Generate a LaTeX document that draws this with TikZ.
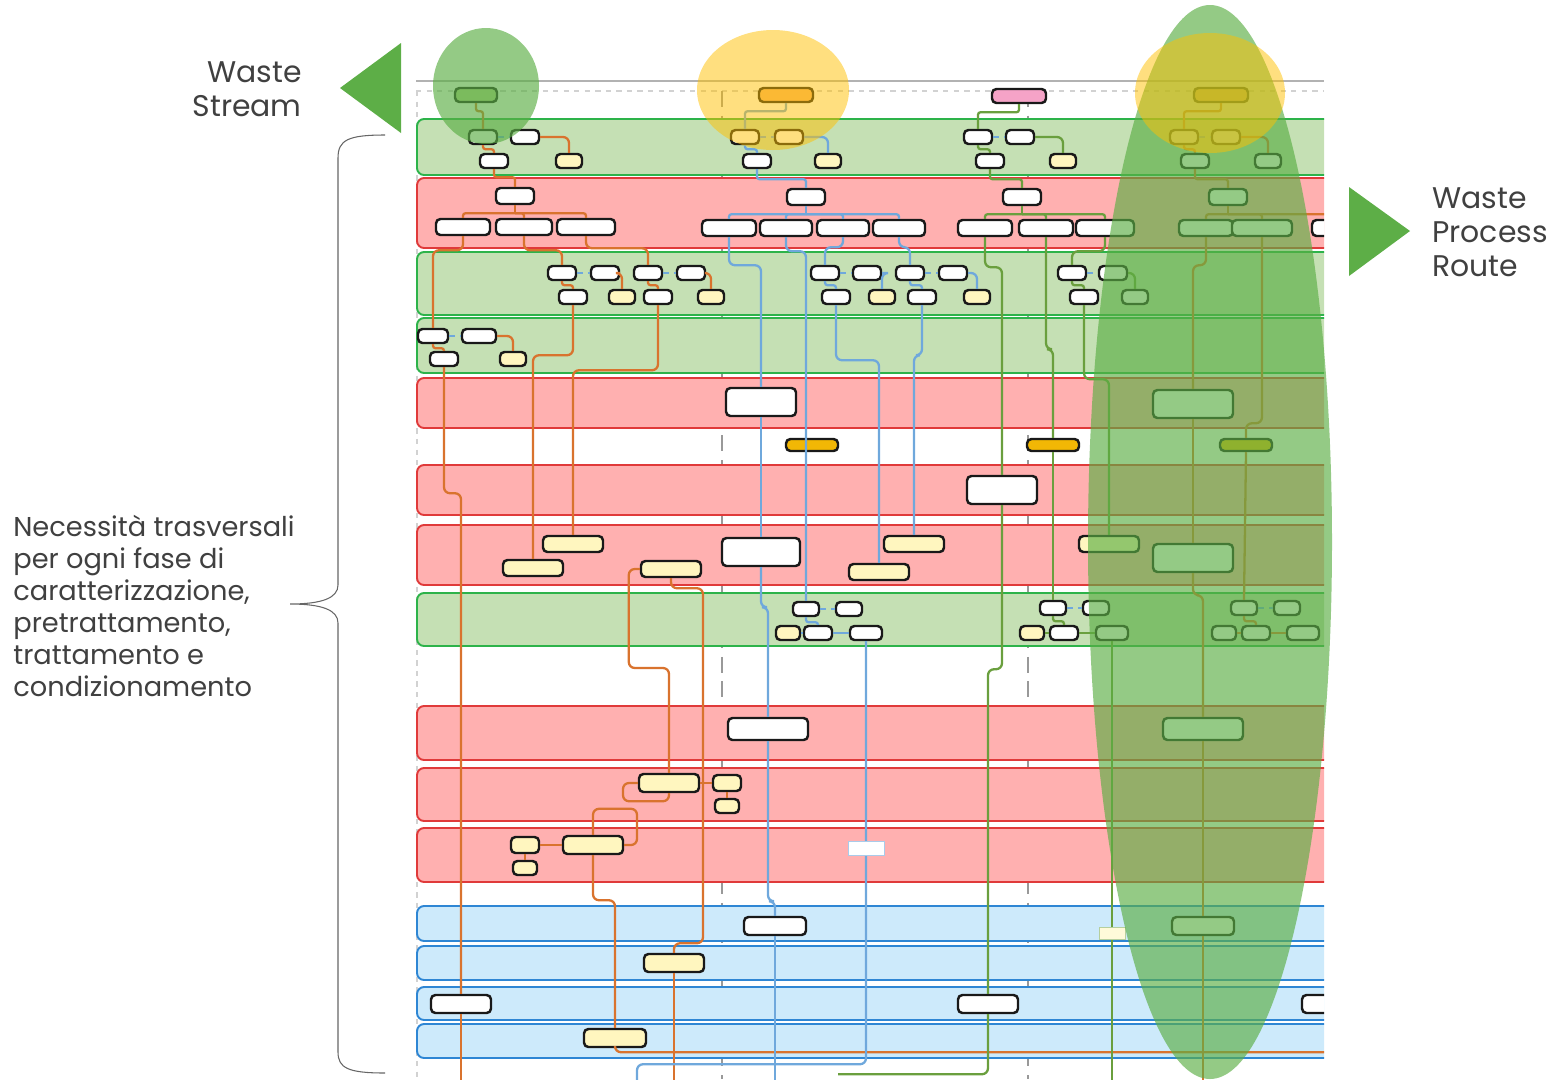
\documentclass[tikz,border=0pt]{standalone}
\usepackage{fontspec}
\setmainfont{Poppins}
\usepackage{xcolor}
\definecolor{txtgray}{HTML}{404040}
\definecolor{arrowgreen}{HTML}{5DAE47}
\definecolor{hlgreen}{HTML}{5BAE44}
\definecolor{hlyellow}{HTML}{FFC000}
\definecolor{bgfill}{HTML}{C5E0B4}
\definecolor{bgdraw}{HTML}{2DB34A}
\definecolor{brfill}{HTML}{FFB0B0}
\definecolor{brdraw}{HTML}{E03A3A}
\definecolor{bbfill}{HTML}{CDEAFB}
\definecolor{bbdraw}{HTML}{2E86D4}
\definecolor{orangeline}{HTML}{D9732E}
\definecolor{blueline}{HTML}{6FA8DC}
\definecolor{greenline}{HTML}{6A9F3E}
\definecolor{yellowfill}{HTML}{FFF6BF}
\definecolor{goldfill}{HTML}{F2B705}
\definecolor{hdgreen}{HTML}{B8D48E}
\definecolor{hdorange}{HTML}{F7B36A}
\definecolor{hdpink}{HTML}{F5A3C7}
\tikzset{
  nd/.style={draw=black!90, line width=1.4pt, rounded corners=2.5pt, fill=white, inner sep=0pt},
  ye/.style={nd, fill=yellowfill},
  sz/.style 2 args={minimum width=#1*0.2mm, minimum height=#2*0.2mm},
  bandg/.style={fill=bgfill, draw=bgdraw, line width=1.1pt, rounded corners=4pt},
  bandr/.style={fill=brfill, draw=brdraw, line width=1.1pt, rounded corners=4pt},
  bandb/.style={fill=bbfill, draw=bbdraw, line width=1.1pt, rounded corners=4pt},
  oline/.style={draw=orangeline, line width=1.3pt, rounded corners=1.2mm},
  bline/.style={draw=blueline, line width=1.3pt, rounded corners=1.2mm},
  gline/.style={draw=greenline, line width=1.3pt, rounded corners=1.2mm},
  sr/.style={rounded corners=0.5mm},
  bdash/.style={draw=blueline, line width=1pt, dashed},
  sidetext/.style={text=txtgray, inner sep=0pt}
}
\begin{document}
\begin{tikzpicture}[x=0.2mm, y=-0.2mm]
\useasboundingbox (0,0) rectangle (1549,1079);

\begin{scope}
\clip (410,0) rectangle (1324,1079);
% frame lines
\draw[gray!60, line width=1pt] (416,81) -- (1324,81);
\draw[gray!35, line width=0.8pt, dashed] (416,91) -- (1324,91);
\draw[gray!35, line width=0.8pt, dashed] (417,91) -- (417,1079);
\draw[gray!80, line width=0.8pt, dash pattern=on 9pt off 5pt] (722,91) -- (722,1079);
\draw[gray!80, line width=0.8pt, dash pattern=on 9pt off 5pt] (1028,91) -- (1028,1079);

% lanes
\draw[bandg] (417,119) rectangle (1340,175);
\draw[bandr] (417,178) rectangle (1340,248);
\draw[bandg] (417,252) rectangle (1340,315);
\draw[bandg] (417,318) rectangle (1340,373);
\draw[bandr] (417,378) rectangle (1340,428);
\draw[bandr] (417,465) rectangle (1340,515);
\draw[bandr] (417,525) rectangle (1340,585);
\draw[bandg] (417,593) rectangle (1340,646);
\draw[bandr] (417,706) rectangle (1340,760);
\draw[bandr] (417,768) rectangle (1340,821);
\draw[bandr] (417,828) rectangle (1340,882);
\draw[bandb] (417,906) rectangle (1340,941);
\draw[bandb] (417,946) rectangle (1340,980);
\draw[bandb] (417,987) rectangle (1340,1020);
\draw[bandb] (417,1024) rectangle (1340,1058);

% headers
\node[nd, fill=hdgreen, sz={42}{14}] (h1) at (476,95) {};
\node[nd, fill=hdorange, sz={54}{14}] (h2) at (786,95) {};
\node[nd, fill=hdpink, sz={54}{14}] (h3) at (1019,96) {};
\node[nd, fill=hdorange, sz={54}{14}] (h4) at (1221,95) {};

% first lane
\node[nd, sz={28}{14}] (a1) at (483,137) {};
\node[nd, sz={28}{14}] (b1) at (525,137) {};
\node[nd, sz={28}{14}] (c1) at (494,161) {};
\node[ye, sz={26}{14}] (d1) at (569,161) {};
\node[nd, sz={28}{14}] (a2) at (745,137) {};
\node[nd, sz={28}{14}] (b2) at (789,137) {};
\node[nd, sz={28}{14}] (c2) at (757,161) {};
\node[ye, sz={26}{14}] (d2) at (828,161) {};
\node[nd, sz={28}{14}] (a3) at (978,137) {};
\node[nd, sz={28}{14}] (b3) at (1020,137) {};
\node[nd, sz={28}{14}] (c3) at (990,161) {};
\node[ye, sz={26}{14}] (d3) at (1063,161) {};
\node[nd, sz={28}{14}] (a4) at (1184,137) {};
\node[nd, sz={28}{14}] (b4) at (1226,137) {};
\node[nd, sz={28}{14}] (c4) at (1195,161) {};
\node[nd, sz={26}{14}] (d4) at (1268,161) {};

% second lane
\node[nd, sz={38}{16}] (p1) at (515,196) {};
\node[nd, sz={54}{16}] (q1) at (463,227) {};
\node[nd, sz={56}{16}] (r1) at (524,227) {};
\node[nd, sz={58}{16}] (s1) at (586,227) {};
\node[nd, sz={38}{16}] (p2) at (806,197) {};
\node[nd, sz={54}{16}] (q2) at (729,228) {};
\node[nd, sz={52}{16}] (r2) at (786,228) {};
\node[nd, sz={52}{16}] (s2) at (843,228) {};
\node[nd, sz={52}{16}] (t2) at (899,228) {};
\node[nd, sz={38}{16}] (p3) at (1022,197) {};
\node[nd, sz={54}{16}] (q3) at (985,228) {};
\node[nd, sz={54}{16}] (r3) at (1046,228) {};
\node[nd, sz={58}{16}] (s3) at (1105,228) {};
\node[nd, sz={38}{16}] (p4) at (1228,197) {};
\node[nd, sz={54}{16}] (q4) at (1206,228) {};
\node[nd, sz={60}{16}] (r4) at (1262,228) {};
\node[nd, sz={40}{16}] (s4) at (1332,228) {};

% third and fourth lane
\node[nd, sz={28}{14}] (e1) at (562,273) {};
\node[nd, sz={28}{14}] (f1) at (605,273) {};
\node[nd, sz={28}{14}] (g1) at (573,297) {};
\node[ye, sz={26}{14}] (k1) at (622,297) {};
\node[nd, sz={28}{14}] (e2) at (648,273) {};
\node[nd, sz={28}{14}] (f2) at (691,273) {};
\node[nd, sz={28}{14}] (g2) at (658,297) {};
\node[ye, sz={26}{14}] (k2) at (711,297) {};
\node[nd, sz={28}{14}] (e3) at (825,273) {};
\node[nd, sz={28}{14}] (f3) at (867,273) {};
\node[nd, sz={28}{14}] (g3) at (836,297) {};
\node[ye, sz={26}{14}] (k3) at (882,297) {};
\node[nd, sz={28}{14}] (e4) at (910,273) {};
\node[nd, sz={28}{14}] (f4) at (953,273) {};
\node[nd, sz={28}{14}] (g4) at (922,297) {};
\node[ye, sz={26}{14}] (k4) at (977,297) {};
\node[nd, sz={28}{14}] (e5) at (1072,273) {};
\node[nd, sz={28}{14}] (f5) at (1113,273) {};
\node[nd, sz={28}{14}] (g5) at (1084,297) {};
\node[nd, sz={26}{14}] (k5) at (1135,297) {};
\node[nd, sz={30}{14}] (e6) at (433,336) {};
\node[nd, sz={34}{14}] (f6) at (479,336) {};
\node[nd, sz={28}{14}] (g6) at (444,359) {};
\node[ye, sz={26}{14}] (k6) at (513,359) {};

% middle lanes
\node[nd, sz={70}{28}] (m1) at (761,402) {};
\node[nd, sz={80}{28}] (m2) at (1193,404) {};
\node[nd, fill=goldfill, sz={52}{12}] (o1) at (812,445) {};
\node[nd, fill=goldfill, sz={52}{12}] (o2) at (1053,445) {};
\node[nd, fill=goldfill, sz={52}{12}] (o3) at (1246,445) {};
\node[nd, sz={70}{28}] (m3) at (1002,490) {};
\node[ye, sz={60}{16}] (y1) at (573,544) {};
\node[ye, sz={60}{16}] (y2) at (533,568) {};
\node[ye, sz={60}{16}] (y3) at (671,569) {};
\node[nd, sz={78}{28}] (m4) at (761,552) {};
\node[ye, sz={60}{16}] (y4) at (914,544) {};
\node[ye, sz={60}{16}] (y5) at (879,572) {};
\node[ye, sz={60}{16}] (y6) at (1109,544) {};
\node[nd, sz={80}{28}] (m5) at (1193,558) {};

\node[nd, sz={26}{14}] (u1) at (806,609) {};
\node[nd, sz={26}{14}] (v1) at (849,609) {};
\node[ye, sz={24}{14}] (w1) at (788,633) {};
\node[nd, sz={28}{14}] (x1) at (818,633) {};
\node[nd, sz={32}{14}] (z1) at (866,633) {};
\node[nd, sz={26}{14}] (u2) at (1053,608) {};
\node[nd, sz={26}{14}] (v2) at (1096,608) {};
\node[ye, sz={24}{14}] (w2) at (1032,633) {};
\node[nd, sz={28}{14}] (x2) at (1064,633) {};
\node[nd, sz={32}{14}] (z2) at (1112,633) {};
\node[nd, sz={26}{14}] (u3) at (1244,608) {};
\node[nd, sz={26}{14}] (v3) at (1287,608) {};
\node[nd, sz={24}{14}] (w3) at (1224,633) {};
\node[nd, sz={28}{14}] (x3) at (1256,633) {};
\node[nd, sz={32}{14}] (z3) at (1303,633) {};

\node[nd, sz={80}{22}] (m6) at (768,729) {};
\node[nd, sz={80}{22}] (m7) at (1203,729) {};
\node[ye, sz={60}{18}] (y7) at (669,783) {};
\node[ye, sz={28}{16}] (y8) at (727,783) {};
\node[ye, sz={24}{14}] (y9) at (727,806) {};
\node[ye, sz={28}{16}] (y10) at (525,845) {};
\node[ye, sz={24}{14}] (y11) at (525,868) {};
\node[ye, sz={60}{18}] (y12) at (593,845) {};

% lower lanes
\node[nd, sz={62}{18}] (m8) at (775,926) {};
\node[nd, sz={62}{18}] (m9) at (1203,926) {};
\node[ye, sz={60}{18}] (y13) at (674,963) {};
\node[nd, sz={60}{18}] (m10) at (461,1004) {};
\node[nd, sz={60}{18}] (m11) at (988,1004) {};
\node[nd, sz={60}{18}] (m12) at (1332,1004) {};
\node[ye, sz={62}{18}] (y14) at (615,1038) {};

% orange route
\draw[oline, sr] (h1.south) -- ++(0,8) -| (a1.north);
\draw[bdash] (a1.east) -- (b1.west);
\draw[oline, sr] (a1.south) -- ++(0,4) -| (c1.north);
\draw[oline] (b1.east) -| (d1.north);
\draw[oline, sr] (c1.south) -- ++(0,8) -| (p1.north);
\draw[oline, sr] (p1.south) -- ++(0,8) coordinate (j1);
\draw[oline, sr] (j1) -| (q1.north);
\draw[oline, sr] (j1) -| (r1.north);
\draw[oline, sr] (j1) -| (s1.north);
\draw[oline] (q1.south) -- ++(0,14) -| (e6.north);
\draw[oline] (r1.south) -- ++(0,14) -| (e1.north);
\draw[oline] (s1.south) -- ++(0,12) -| (e2.north);
\draw[bdash] (e1.east) -- (f1.west);
\draw[oline, sr] (e1.south) -- ++(0,4) -| (g1.north);
\draw[oline] (f1.east) -| (k1.north);
\draw[bdash] (e2.east) -- (f2.west);
\draw[oline, sr] (e2.south) -- ++(0,4) -| (g2.north);
\draw[oline] (f2.east) -| (k2.north);
\draw[bdash] (e6.east) -- (f6.west);
\draw[oline, sr] (e6.south) -- ++(0,4) -| (g6.north);
\draw[oline] (f6.east) -| (k6.north);
\draw[oline] (g1.south) -- ++(0,50) -| (y2.north);
\draw[oline] (g2.south) -- ++(0,65) -| (y1.north);
\draw[oline] (g6.south) -- ++(0,126) -| (m10.north);
\draw[oline] (m10.south) -- ++(0,80);
\draw[oline] (y3.west) -| ++(-11,99) -| (y7.north);
\draw[oline] (y3.south) -- ++(0,10) -| ++(32,355) -| (y13.north);
\draw[oline] (y13.south) -- ++(0,120);
\draw[oline] (y7.south) |- ++(-46,8) |- (y7.west);
\draw[oline] (y7.east) -- (y8.west);
\draw[oline] (y8.south) -- (y9.north);
\draw[oline] (y12.north) |- ++(44,-26) |- (y12.east);
\draw[oline] (y12.west) -- (y10.east);
\draw[oline] (y10.south) -- (y11.north);
\draw[oline] (y12.south) -- ++(0,45) -| (y14.north);
\draw[oline] (y14.south) |- ++(720,4);

% blue route
\draw[bline, sr] (h2.south) -- ++(0,8) -| (a2.north);
\draw[bdash] (a2.east) -- (b2.west);
\draw[bline, sr] (a2.south) -- ++(0,4) -| (c2.north);
\draw[bline] (b2.east) -| (d2.north);
\draw[bline, sr] (c2.south) -- ++(0,10) -| (p2.north);
\draw[bline, sr] (p2.south) -- ++(0,8) coordinate (j2);
\draw[bline, sr] (j2) -| (q2.north);
\draw[bline, sr] (j2) -| (r2.north);
\draw[bline, sr] (j2) -| (s2.north);
\draw[bline, sr] (j2) -| (t2.north);
\draw[bline] (q2.south) -- ++(0,28) -| (m1.north);
\draw[bline] (m1.south) -- (m4.north);
\draw[bline] (m4.south) -- ++(0,40) -| (m6.north);
\draw[bline] (m6.south) -- ++(0,160) -| (m8.north);
\draw[bline] (m8.south) -- ++(0,200);
\draw[bline] (r2.south) -- ++(0,14) -| (u1.north);
\draw[bline] (s2.south) -- ++(0,10) -| (e3.north);
\draw[bline] (t2.south) -- ++(0,10) -| (e4.north);
\draw[bdash] (e3.east) -- (f3.west);
\draw[bline, sr] (e3.south) -- ++(0,4) -| (g3.north);
\draw[bline] (f3.east) -| (k3.north);
\draw[bdash] (e4.east) -- (f4.west);
\draw[bline, sr] (e4.south) -- ++(0,4) -| (g4.north);
\draw[bline] (f4.east) -| (k4.north);
\draw[bline] (g3.south) -- ++(0,55) -| (y5.north);
\draw[bline] (g4.south) -- ++(0,50) -| (y4.north);
\draw[bdash] (u1.east) -- (v1.west);
\draw[bline, sr] (u1.south) -- ++(0,5) -| (x1.north);
\draw[bline] (x1.west) -- (w1.east);
\draw[bline] (x1.east) -- (z1.west);
\draw[bline] (z1.south) |- ++(-229,423) -- ++(0,40);
\node[fill=white, draw=blueline!60, line width=0.4pt, sz={36}{14}] (bt) at (866,848) {};

% green route
\draw[gline, sr] (h3.south) -- ++(0,8) -| (a3.north);
\draw[bdash] (a3.east) -- (b3.west);
\draw[gline, sr] (a3.south) -- ++(0,4) -| (c3.north);
\draw[gline] (b3.east) -| (d3.north);
\draw[gline, sr] (c3.south) -- ++(0,10) -| (p3.north);
\draw[gline, sr] (p3.south) -- ++(0,8) coordinate (j3);
\draw[gline, sr] (j3) -| (q3.north);
\draw[gline, sr] (j3) -| (r3.north);
\draw[gline, sr] (j3) -| (s3.north);
\draw[gline] (q3.south) -- ++(0,30) -| (m3.north);
\draw[gline] (m3.south) -- ++(0,164) -| (m11.north);
\draw[gline] (m11.south) |- ++(-150,60);
\draw[gline] (r3.south) -- ++(0,112) -| (o2.north);
\draw[gline] (o2.south) -- (u2.north);
\draw[gline] (s3.south) -- ++(0,14) -| (e5.north);
\draw[bdash] (e5.east) -- (f5.west);
\draw[gline, sr] (e5.south) -- ++(0,4) -| (g5.north);
\draw[gline] (f5.east) -| (k5.north);
\draw[gline] (g5.south) -- ++(0,74) -| (y6.north);
\draw[bdash] (u2.east) -- (v2.west);
\draw[gline, sr] (u2.south) -- ++(0,5) -| (x2.north);
\draw[gline] (x2.west) -- (w2.east);
\draw[gline] (x2.east) -- (z2.west);
\draw[gline] (z2.south) -- ++(0,460);
\node[fill=yellowfill!60, draw=greenline!50, line width=0.4pt, sz={26}{12}] (gt) at (1112,933) {};

% right route
\draw[oline, sr] (h4.south) -- ++(0,8) -| (a4.north);
\draw[bdash] (a4.east) -- (b4.west);
\draw[oline, sr] (a4.south) -- ++(0,4) -| (c4.north);
\draw[oline] (b4.east) -| (d4.north);
\draw[oline, sr] (c4.south) -- ++(0,10) -| (p4.north);
\draw[oline, sr] (p4.south) -- ++(0,8) coordinate (j4);
\draw[oline, sr] (j4) -| (q4.north);
\draw[oline, sr] (j4) -| (r4.north);
\draw[oline, sr] (j4) -| (s4.north);
\draw[oline] (q4.south) -- ++(0,28) -| (m2.north);
\draw[oline] (m2.south) -- (m5.north);
\draw[oline] (m5.south) -- ++(0,22) -| (m7.north);
\draw[oline] (m7.south) -- (m9.north);
\draw[oline] (m9.south) -- ++(0,160);
\draw[oline] (r4.south) -- ++(0,186) -| (o3.north);
\draw[oline] (o3.south) -- (u3.north);
\draw[bdash] (u3.east) -- (v3.west);
\draw[oline, sr] (u3.south) -- ++(0,5) -| (x3.north);
\draw[oline] (x3.west) -- (w3.east);
\draw[oline] (x3.east) -- (z3.west);
\end{scope}

% highlights
\fill[hlgreen, opacity=0.65] (486,86) ellipse [x radius=53, y radius=58];
\fill[hlyellow, opacity=0.5] (773,90) ellipse [x radius=76, y radius=60];
\fill[hlgreen, opacity=0.65] (1210,542) ellipse [x radius=122, y radius=537];
\fill[hlyellow, opacity=0.5] (1210,93) ellipse [x radius=75, y radius=60];

% arrows and labels
\fill[arrowgreen] (340,88) -- (401,43) -- (401,133) -- cycle;
\fill[arrowgreen] (1349,187) -- (1410,231) -- (1349,276) -- cycle;
\node[sidetext, align=right, anchor=east, font=\fontsize{17}{19.3}\selectfont] (ws) at (302,89) {Waste\\Stream};
\node[sidetext, align=left, anchor=west, font=\fontsize{17}{19.3}\selectfont] (wr) at (1432,232) {Waste\\Process\\Route};
\draw[txtgray!80, line width=0.6pt] (385,135) .. controls (348,135) and (338,140) .. (338,158) -- (338,585) .. controls (338,598) and (322,604) .. (290,604) .. controls (322,604) and (338,610) .. (338,623) -- (338,1052) .. controls (338,1068) and (348,1073) .. (385,1073);
\node[sidetext, align=left, anchor=west, font=\fontsize{15.5}{18.2}\selectfont] (nt) at (13,606) {Necessità trasversali\\per ogni fase di\\caratterizzazione,\\pretrattamento,\\trattamento e\\condizionamento};
\end{tikzpicture}
\end{document}
